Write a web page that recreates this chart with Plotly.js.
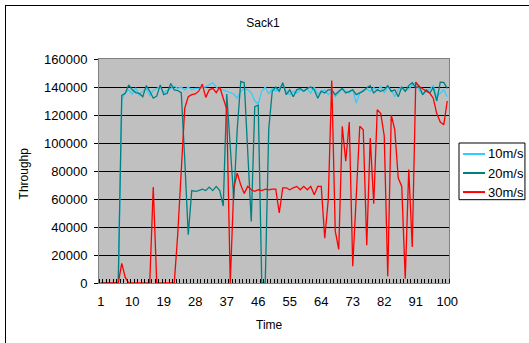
<!DOCTYPE html>
<html>
<head>
<meta charset="utf-8">
<script src="https://cdn.plot.ly/plotly-3.0.1.min.js"></script>
<style>
html,body{margin:0;padding:0;background:#fff;}
#wrap{position:relative;width:529px;height:343px;overflow:hidden;}
#chart{width:529px;height:343px;}
#frame{position:absolute;left:5px;top:5px;width:560px;height:360px;border:1px solid #000;pointer-events:none;}
</style>
</head>
<body>
<div id="wrap"><div id="chart"></div><div id="frame"></div></div>
<script>
const timeTicks = [1,10,19,28,37,46,55,64,73,82,91,100];
const seriesNames = ["10m/s","20m/s","30m/s"];

const s10 = [0,0,0,0,0,0,131000,136000,138000,135000,
139500,134000,137000,139000,134000,137500,139000,140000,136000,137500,
139000,140500,139000,140000,138000,140000,138000,139000,139000,139500,
140000,141500,143000,140000,138000,138000,137000,136000,135000,132000,
137000,139000,138000,136000,130000,128000,137000,140000,135000,139000,
137000,139000,141600,137000,134500,137000,135600,138000,137000,138500,
135600,140000,135000,137000,138000,134500,137000,133000,135700,138500,
137000,135700,138500,128500,135700,138000,138500,136900,139500,137600,
140400,135700,140400,138000,133000,138500,139900,137600,138500,141600,
143300,138000,134500,136900,138500,140900,133000,135700,138000,133000];

const s20 = [0,0,0,0,0,0,134000,135500,141500,138000,
136000,135500,133000,141000,137000,132000,133500,141500,134500,135500,
142500,138000,137500,136000,88000,34500,66000,65500,66000,67000,
66000,68500,66000,69000,66000,55000,135000,100000,60000,110000,
144000,143000,93000,44000,126000,127000,0,0,110000,137000,
140000,137000,143000,134500,138000,133000,138000,139000,137000,139000,
140000,138000,132000,137000,135700,138000,138000,134500,136900,139000,
135700,136900,138000,134500,135700,137000,139500,141000,135700,138000,
136900,138000,141000,136900,138000,133000,140000,136900,141000,143000,
139500,140400,134500,138000,135700,139500,130000,143500,143300,139000];

const s30 = [0,0,0,0,0,0,14000,4000,0,0,
0,0,0,0,0,68500,0,0,0,0,
0,0,35000,85000,125000,133000,134500,135000,137000,142000,
132600,138000,139000,136000,140000,132000,124000,0,68000,78500,
70000,64000,69000,66600,65500,66600,66000,67000,66500,67000,
67000,50000,68000,68000,66600,68000,69000,66600,69000,66600,
69000,63000,69000,69000,32000,59500,144700,37000,24000,112000,
87000,115000,12000,62000,112000,109500,27000,103500,56600,123800,
121000,105000,4800,120000,109500,75000,69000,3000,81000,25700,
143500,140400,138500,137000,135700,132000,121000,115000,113000,130000];

const time = s10.map((_, i) => i + 1);

const colors = ["#33CCFF","#008080","#FF0000"];
const traces = [s10, s20, s30].map((s, k) => ({
  x: time, y: s, type: "scatter", mode: "lines", name: seriesNames[k],
  line: {color: colors[k], width: 1.3}
}));

// legend built from the series names/colours (plot area: x 99..449, y 59..283)
const legRows = [0.576, 0.491, 0.406];
const shapes = [
  {type: "rect", xref: "paper", yref: "paper", x0: 1.0286, x1: 1.217, y0: 0.372, y1: 0.625,
   line: {color: "#000", width: 1}, fillcolor: "#fff"}
];
const annotations = [
  {text: "Throughp", xref: "paper", yref: "paper", x: -0.215, y: 0.488, textangle: -90, showarrow: false, font: {size: 12}, xanchor: "center", yanchor: "middle"},
  {text: "Time", xref: "paper", yref: "paper", x: 0.488, y: -0.186, showarrow: false, font: {size: 12}, xanchor: "center", yanchor: "middle"}
];
seriesNames.forEach((n, k) => {
  shapes.push({type: "line", xref: "paper", yref: "paper", x0: 1.04, x1: 1.103, y0: legRows[k], y1: legRows[k],
    line: {color: colors[k], width: 2}});
  annotations.push({text: n, xref: "paper", yref: "paper", x: 1.105, y: legRows[k], xanchor: "left", yanchor: "middle",
    showarrow: false, font: {size: 13}});
});

const layout = {
  width: 529, height: 343,
  margin: {l: 99, r: 80, t: 59, b: 60},
  paper_bgcolor: "#ffffff",
  plot_bgcolor: "#C0C0C0",
  font: {family: "Liberation Sans, Arial, sans-serif", size: 13, color: "#000"},
  title: {text: "Sack1", font: {size: 12, color: "#000"}, x: 0.497, xref: "container", y: 0.933, yref: "container", xanchor: "center", yanchor: "middle"},
  showlegend: false,
  xaxis: {
    range: [0.5, 100.5], tickmode: "array", tickvals: timeTicks, ticktext: timeTicks.map(String),
    ticks: "", showgrid: false, zeroline: false, showline: true, linecolor: "#808080", linewidth: 1, mirror: true,
    ticklabelstandoff: 6,
    minor: {ticks: "inside", tickmode: "linear", tick0: 0.5, dtick: 1, ticklen: 4, tickcolor: "#000", tickwidth: 1, showgrid: false}
  },
  yaxis: {
    range: [0, 160000], dtick: 20000, tickformat: "d", ticks: "outside", ticklen: 4, tickcolor: "#000",
    showgrid: true, gridcolor: "#000", gridwidth: 1, zeroline: false,
    showline: true, linecolor: "#808080", linewidth: 1, mirror: true, ticklabelstandoff: 4
  },
  shapes: shapes,
  annotations: annotations
};

Plotly.newPlot("chart", traces, layout, {displayModeBar: false, staticPlot: true});
</script>
</body>
</html>
